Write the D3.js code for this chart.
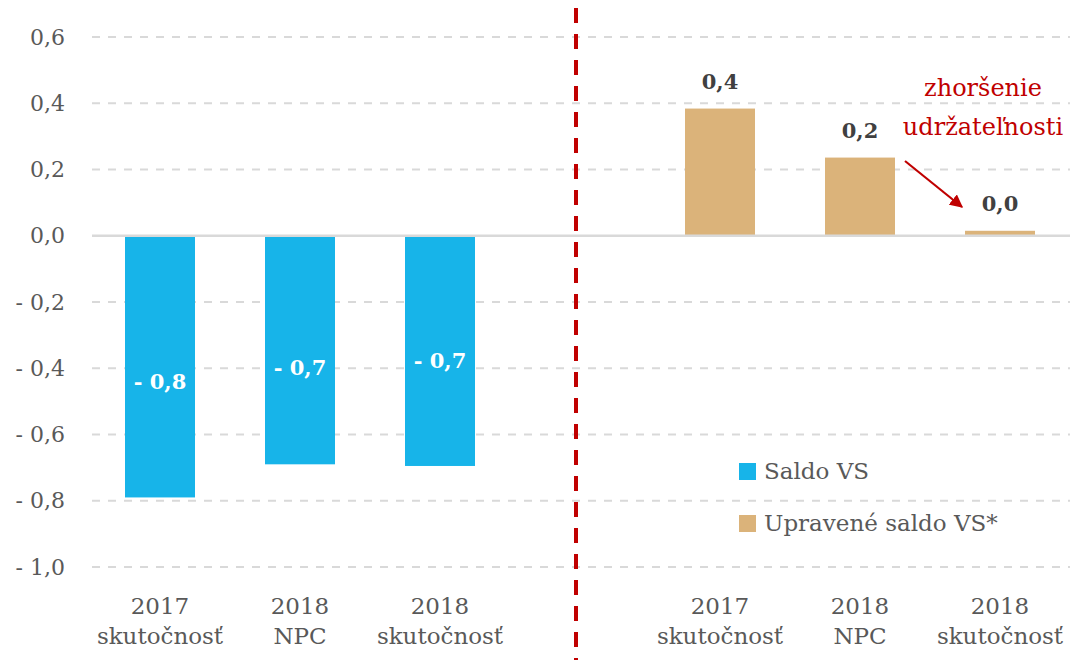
<!DOCTYPE html>
<html>
<head>
<meta charset="utf-8">
<script src="https://cdn.jsdelivr.net/npm/d3@7"></script>
<style>
  body { margin: 0; background: #fff; }
  svg { display: block; font-family: 'DejaVu Serif', 'Liberation Serif', serif; }
</style>
</head>
<body>
<div id="chart"></div>
<script>
const categories = ['2017|skutočnosť', '2018|NPC', '2018|skutočnosť', 'gap', '2017 |skutočnosť', '2018 |NPC', '2018 |skutočnosť'];
const saldoValues = [-0.79, -0.69, -0.695];
const saldoLabels = ['- 0,8', '- 0,7', '- 0,7'];
const upraveneValues = [0.384, 0.236, 0.015];
const upraveneLabels = ['0,4', '0,2', '0,0'];
const yTicks = [0.6, 0.4, 0.2, 0, -0.2, -0.4, -0.6, -0.8, -1.0];
const legendItems = ['Saldo VS', 'Upravené saldo VS*'];
const noteLines = ['zhoršenie', 'udržateľnosti'];

const BLUE = '#17b4e9';
const TAN = '#dbb37a';
const RED = '#c00000';
const TEXT = '#595959';
const GRID = '#d9d9d9';

const width = 1072, height = 663;
const svg = d3.select('#chart').append('svg').attr('width', width).attr('height', height);

const x = d3.scaleBand().domain(categories).range([90, 1070]).paddingInner(0.5).paddingOuter(0.25);
const y = d3.scaleLinear().domain([-1.0, 0.6]).range([567, 37]);

const fmt = v => (v < 0 ? '- ' : '') + d3.format('.1f')(Math.abs(v)).replace('.', ',');

// gridlines
svg.append('g')
  .selectAll('line')
  .data(yTicks.filter(t => t !== 0))
  .enter()
  .append('line')
  .attr('x1', 92).attr('x2', 1070)
  .attr('y1', d => y(d)).attr('y2', d => y(d))
  .attr('stroke', GRID).attr('stroke-width', 2).attr('stroke-dasharray', '8,8');

// y labels
svg.append('g')
  .selectAll('text')
  .data(yTicks)
  .enter()
  .append('text')
  .attr('x', 65).attr('y', d => y(d)).attr('dy', '0.35em')
  .attr('text-anchor', 'end')
  .attr('fill', TEXT).attr('font-size', 22)
  .text(fmt);

// blue bars
const left = categories.slice(0, 3);
const right = categories.slice(4);
svg.append('g')
  .selectAll('rect')
  .data(saldoValues)
  .enter()
  .append('rect')
  .attr('x', (d, i) => x(left[i]))
  .attr('width', x.bandwidth())
  .attr('y', y(0))
  .attr('height', d => y(d) - y(0))
  .attr('fill', BLUE);

svg.append('g')
  .selectAll('text')
  .data(saldoValues)
  .enter()
  .append('text')
  .attr('x', (d, i) => x(left[i]) + x.bandwidth() / 2)
  .attr('y', (d, i) => (y(0) + y(d)) / 2 + [15, 18, 10][i])
  .attr('dy', '0.35em')
  .attr('text-anchor', 'middle')
  .attr('fill', '#fff').attr('font-weight', 'bold').attr('font-size', 21)
  .text((d, i) => saldoLabels[i]);

// tan bars
svg.append('g')
  .selectAll('rect')
  .data(upraveneValues)
  .enter()
  .append('rect')
  .attr('x', (d, i) => x(right[i]))
  .attr('width', x.bandwidth())
  .attr('y', d => y(d))
  .attr('height', d => y(0) - y(d))
  .attr('fill', TAN);

svg.append('g')
  .selectAll('text')
  .data(upraveneValues)
  .enter()
  .append('text')
  .attr('x', (d, i) => x(right[i]) + x.bandwidth() / 2)
  .attr('y', d => y(d) - 27)
  .attr('dy', '0.35em')
  .attr('text-anchor', 'middle')
  .attr('fill', '#404040').attr('font-weight', 'bold').attr('font-size', 21)
  .text((d, i) => upraveneLabels[i]);

// zero line
svg.append('line')
  .attr('x1', 92).attr('x2', 1070)
  .attr('y1', y(0)).attr('y2', y(0))
  .attr('stroke', GRID).attr('stroke-width', 2.5);

// x labels
const xl = svg.append('g')
  .selectAll('text')
  .data(categories.filter(c => c !== 'gap'))
  .enter()
  .append('text')
  .attr('text-anchor', 'middle')
  .attr('fill', TEXT).attr('font-size', 23);
xl.append('tspan')
  .attr('x', d => x(d) + x.bandwidth() / 2).attr('y', 614)
  .text(d => d.split('|')[0].trim());
xl.append('tspan')
  .attr('x', d => x(d) + x.bandwidth() / 2).attr('y', 644)
  .text(d => d.split('|')[1]);

// red divider
const divX = x('gap') + x.bandwidth() / 2 - 4;
svg.append('line')
  .attr('x1', divX).attr('x2', divX)
  .attr('y1', 8).attr('y2', 660)
  .attr('stroke', RED).attr('stroke-width', 4).attr('stroke-dasharray', '15,11');

// annotation
svg.append('g')
  .selectAll('text')
  .data(noteLines)
  .enter()
  .append('text')
  .attr('x', 983).attr('y', (d, i) => 96 + i * 39)
  .attr('text-anchor', 'middle')
  .attr('fill', RED).attr('font-size', 24)
  .text(d => d);

svg.append('defs').append('marker')
  .attr('id', 'arrow').attr('viewBox', '0 0 10 10')
  .attr('refX', 9).attr('refY', 5)
  .attr('markerWidth', 6).attr('markerHeight', 6)
  .attr('markerUnits', 'strokeWidth')
  .attr('orient', 'auto')
  .append('path').attr('d', 'M0,0L10,5L0,10Z').attr('fill', RED);

svg.append('line')
  .attr('x1', 905).attr('y1', 161)
  .attr('x2', 962).attr('y2', 207)
  .attr('stroke', RED).attr('stroke-width', 2.2)
  .attr('marker-end', 'url(#arrow)');

// legend
const legend = svg.append('g')
  .selectAll('g')
  .data(legendItems)
  .enter()
  .append('g')
  .attr('transform', (d, i) => `translate(739, ${463 + i * 52})`);
legend.append('rect')
  .attr('width', 17).attr('height', 17)
  .attr('fill', (d, i) => [BLUE, TAN][i]);
legend.append('text')
  .attr('x', 25).attr('y', 16)
  .attr('fill', TEXT).attr('font-size', 23)
  .text(d => d);
</script>
</body>
</html>
